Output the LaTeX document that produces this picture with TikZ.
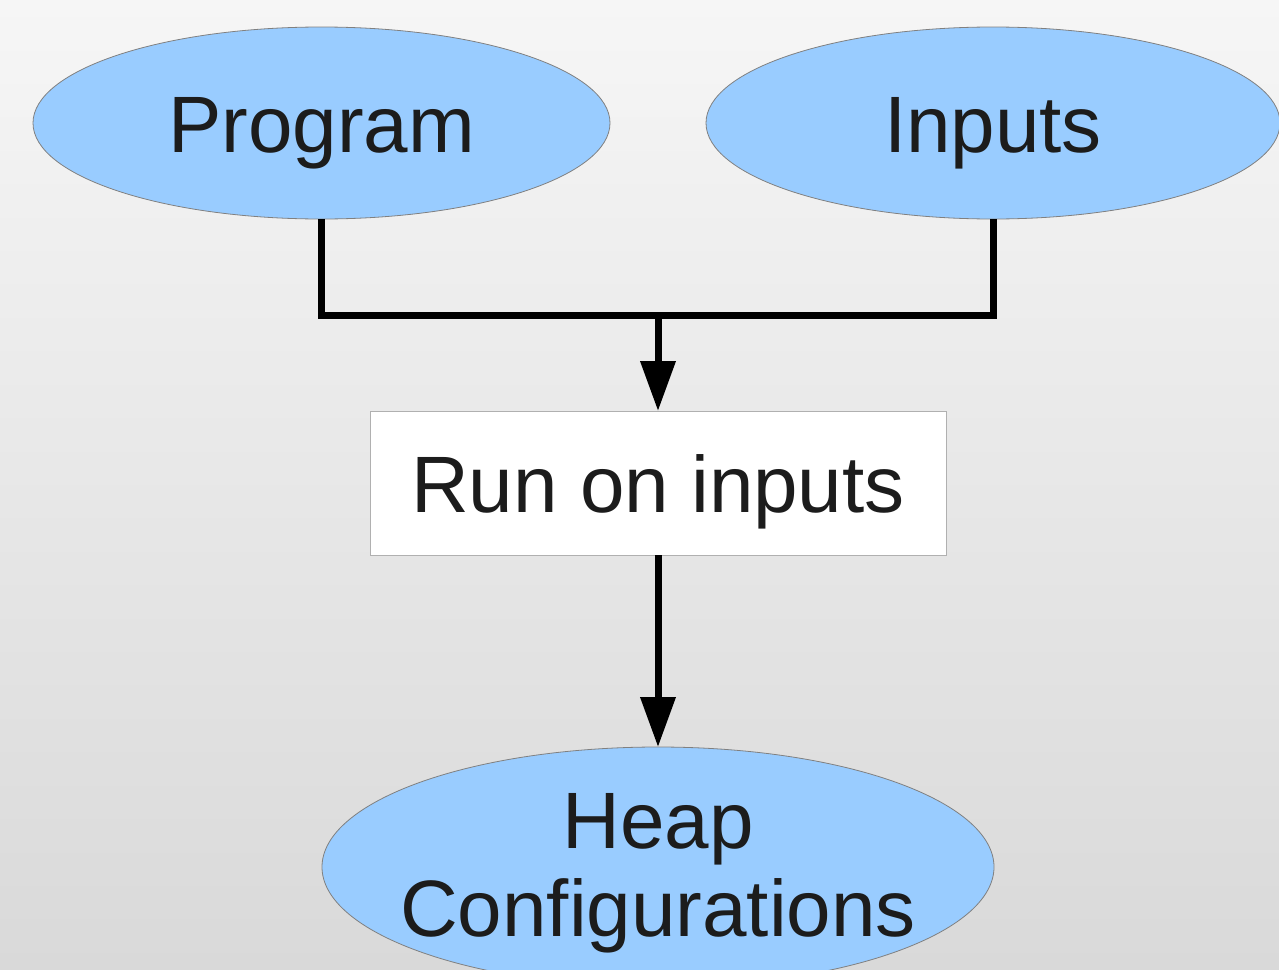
\documentclass[tikz,border=0pt]{standalone}
\usepackage{fontspec}
\setmainfont{Liberation Sans}
\usetikzlibrary{shapes.geometric,arrows.meta}
\definecolor{bubble}{HTML}{99CCFF}
\definecolor{ink}{HTML}{1C1C1C}
\definecolor{rim}{HTML}{808080}
\definecolor{boxrim}{HTML}{B0B0B0}
\definecolor{bgtop}{HTML}{F6F6F6}
\definecolor{bgbot}{HTML}{D9D9D9}
% text with no extent of its own, its baseline shifted from the node centre
\newcommand{\placedtext}[2]{\raisebox{#1}[0pt][0pt]{\makebox[0pt]{#2}}}
\begin{document}
\begin{tikzpicture}[x=1pt,y=-1pt,
  every node/.style={font=\fontsize{80}{88}\selectfont, text=ink, inner sep=0pt, outer sep=0pt},
  bubble/.style={ellipse, fill=bubble, draw=rim, line width=0.8pt},
  stepbox/.style={rectangle, fill=white, draw=boxrim, line width=1pt,
    minimum width=576pt, minimum height=144pt},
  conn/.style={line width=7pt, line join=miter, draw=black},
  flow/.style={conn, -{Triangle[length=50pt,width=34pt]}}]
  % page with its soft vertical gradient
  \shade[top color=bgtop, bottom color=bgbot] (0,0) rectangle (1279,969);
  \useasboundingbox (0,0) rectangle (1279,969);

  \node[bubble, minimum width=577pt, minimum height=192pt] (prog) at (321.5,123)
    {\placedtext{-29pt}{Program}};
  \node[bubble, minimum width=574pt, minimum height=192pt] (inp) at (993,123)
    {\placedtext{-29pt}{Inputs}};
  \node[stepbox] (run) at (658,483)
    {\placedtext{-29pt}{Run on inputs}};
  \node[bubble, minimum width=672pt, minimum height=240pt] (heap) at (658,867)
    {\placedtext{19pt}{\begin{tabular}[t]{@{}c@{}}Heap\\Configurations\end{tabular}}};

  % merge the two sources and feed the run step
  \coordinate (j) at (run.north |- 0,315);
  \draw[conn] (prog.south) |- (j) -| (inp.south);
  \draw[flow] (j) -- (run.north);
  \draw[flow] (run.south) -- (heap.north);
\end{tikzpicture}
\end{document}
